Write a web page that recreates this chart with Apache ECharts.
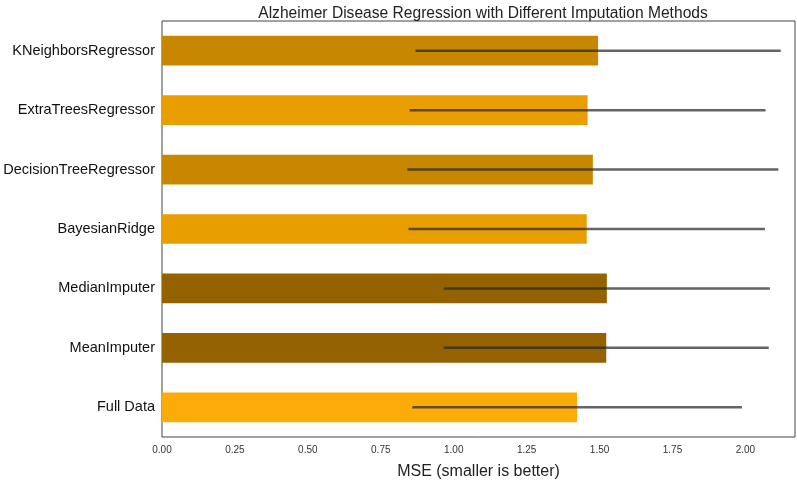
<!DOCTYPE html>
<html>
<head>
<meta charset="utf-8">
<script src="https://cdn.jsdelivr.net/npm/echarts@6/dist/echarts.min.js"></script>
<style>
  html, body { margin: 0; padding: 0; background: #fff; }
  #chart { width: 797px; height: 482px; }
</style>
</head>
<body>
<div id="chart"></div>
<script>
// bottom to top, as ECharts lays out a category y axis
const methods = ['Full Data', 'MeanImputer', 'MedianImputer', 'BayesianRidge',
  'DecisionTreeRegressor', 'ExtraTreesRegressor', 'KNeighborsRegressor'];
const mseMean = [1.423, 1.523, 1.525, 1.456, 1.477, 1.459, 1.495];
const mseStd = [0.565, 0.557, 0.559, 0.611, 0.636, 0.610, 0.626];
const barColors = ['#fcab09', '#946200', '#946200', '#e89e00', '#c88700', '#e89e00', '#c88700'];

const chart = echarts.init(document.getElementById('chart'));

const barData = mseMean.map((v, i) => ({ value: v, itemStyle: { color: barColors[i] } }));
const errData = mseMean.map((v, i) => [i, v - mseStd[i], v + mseStd[i]]);

const option = {
  animation: false,
  textStyle: { fontFamily: 'Liberation Sans, Arial, sans-serif' },
  title: {
    text: 'Alzheimer Disease Regression with Different Imputation Methods',
    left: 478, textAlign: 'center', top: 1,
    textStyle: { fontSize: 15.6, fontWeight: 'normal', color: '#222' }
  },
  grid: {
    left: 162, right: 2, top: 21, bottom: 45,
    outerBoundsMode: 'none', containLabel: false,
    show: true, borderColor: '#444', borderWidth: 1
  },
  xAxis: {
    type: 'value', min: 0, max: 2.17, interval: 0.25,
    name: 'MSE (smaller is better)', nameLocation: 'middle', nameGap: 27,
    nameTextStyle: { fontSize: 16, color: '#222' },
    axisLine: { show: false }, axisTick: { show: false }, splitLine: { show: false },
    axisLabel: {
      fontSize: 10, color: '#333', margin: 8, showMaxLabel: false,
      formatter: v => v.toFixed(2)
    }
  },
  yAxis: {
    type: 'category', data: methods,
    axisLine: { show: false }, axisTick: { show: false },
    axisLabel: { fontSize: 14.5, color: '#111', margin: 7 }
  },
  series: [
    {
      type: 'bar', data: barData, barWidth: '50%'
    },
    {
      type: 'custom', data: errData, z: 5,
      renderItem: (params, api) => {
        const p1 = api.coord([api.value(1), api.value(0)]);
        const p2 = api.coord([api.value(2), api.value(0)]);
        return {
          type: 'line',
          shape: { x1: p1[0], y1: p1[1], x2: p2[0], y2: p2[1] },
          style: { stroke: 'rgba(40,40,40,0.72)', lineWidth: 2.5 }
        };
      }
    }
  ]
};
chart.setOption(option);
</script>
</body>
</html>
